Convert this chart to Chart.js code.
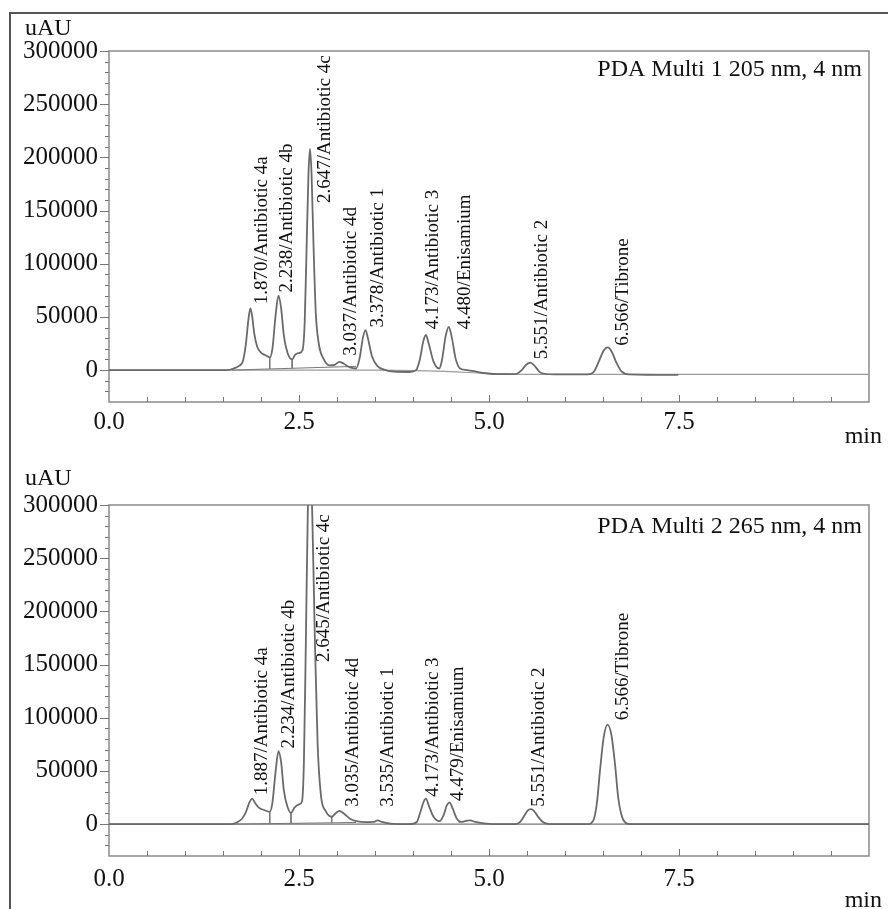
<!DOCTYPE html>
<html>
<head>
<meta charset="utf-8">
<script src="https://cdn.jsdelivr.net/npm/chart.js@4.4.0/dist/chart.umd.min.js"></script>
<style>
  html, body { margin: 0; padding: 0; background: #fff; overflow: hidden; }
  #wrap { position: relative; width: 888px; height: 909px; }
  canvas { position: absolute; left: 0; }
  #top-chart { top: 0; }
  #bottom-chart { top: 454px; }
</style>
</head>
<body>
<div id="wrap">
  <canvas id="top-chart" width="888" height="454"></canvas>
  <canvas id="bottom-chart" width="888" height="455"></canvas>
</div>
<script>
// axis ticks
const xTicks = [0, 2.5, 5, 7.5];
const yTicks = [0, 50000, 100000, 150000, 200000, 250000, 300000];

// 205 nm trace [min, uAU]
const trace205 = [
  [0, 0], [1.55, 0], [1.64, 1500], [1.71, 4000], [1.76, 8000], [1.80, 24000], [1.835, 48000],
  [1.86, 58000], [1.885, 50000], [1.91, 35000], [1.95, 22000], [2.00, 16500], [2.06, 14000],
  [2.115, 12000], [2.15, 20000], [2.19, 50000], [2.23, 70000], [2.265, 58000], [2.30, 33000],
  [2.35, 16000], [2.41, 10000], [2.45, 14500], [2.50, 16000], [2.545, 18500], [2.575, 45000],
  [2.60, 115000], [2.625, 185000], [2.645, 208000], [2.665, 185000], [2.69, 120000], [2.72, 55000],
  [2.76, 25000], [2.82, 11000], [2.90, 4500], [2.97, 5000], [3.03, 7800], [3.09, 6000], [3.17, 2500],
  [3.25, 1500], [3.30, 12000], [3.34, 30000], [3.375, 37500], [3.41, 29000], [3.46, 13000],
  [3.53, 4000], [3.62, 500], [3.75, -1500], [3.95, -1800], [4.04, 0], [4.09, 10000], [4.135, 27000],
  [4.17, 33000], [4.21, 24000], [4.27, 8000], [4.345, 1500], [4.38, 9000], [4.43, 32000],
  [4.47, 40500], [4.51, 31000], [4.56, 11000], [4.62, 1500], [4.71, 0], [4.80, -1000], [4.90, -2500],
  [5.10, -3800], [5.35, -3800], [5.43, 0], [5.49, 5000], [5.545, 7000], [5.60, 4000], [5.68, -2500],
  [5.85, -4000], [6.30, -4000], [6.38, -1500], [6.45, 9000], [6.51, 18500], [6.56, 21300],
  [6.61, 18000], [6.67, 8000], [6.74, -1000], [6.84, -4000], [7.49, -4500]
];
const zero205 = [[0, 0], [3.5, 0], [4.2, -800], [5.5, -4000], [10, -4000]];
const marks205 = [
  [[1.62, 0], [3.25, 3500]],
  [[2.115, 12000], [2.115, 1200]],
  [[2.41, 10000], [2.41, 1800]]
];
const peakNames205 = [
  '1.870/Antibiotic 4a', '2.238/Antibiotic 4b', '2.647/Antibiotic 4c', '3.037/Antibiotic 4d',
  '3.378/Antibiotic 1', '4.173/Antibiotic 3', '4.480/Enisamium', '5.551/Antibiotic 2', '6.566/Tibrone'
];
const peakLabelAt205 = [
  [2.017, 62000], [2.338, 73000], [2.842, 157000], [3.18, 13400], [3.544, 40100],
  [4.268, 38500], [4.684, 38500], [5.693, 10300], [6.759, 22900]
];

// 265 nm trace [min, uAU]
const trace265 = [
  [0, 0], [1.60, 0], [1.68, 1500], [1.75, 5000], [1.80, 11000], [1.845, 20000], [1.885, 24000],
  [1.92, 20000], [1.97, 15500], [2.05, 13000], [2.115, 11600], [2.15, 20000], [2.19, 48000],
  [2.23, 68500], [2.265, 58000], [2.30, 32000], [2.35, 16000], [2.395, 10500], [2.44, 15500],
  [2.50, 18500], [2.54, 21500], [2.565, 60000], [2.59, 170000], [2.615, 290000], [2.645, 345000],
  [2.675, 290000], [2.71, 170000], [2.745, 75000], [2.79, 26000], [2.85, 12500], [2.93, 6900],
  [2.98, 10000], [3.03, 12500], [3.09, 10000], [3.17, 5000], [3.25, 2800], [3.40, 1800], [3.48, 2000],
  [3.535, 3500], [3.59, 2000], [3.70, 500], [3.95, 0], [4.05, 2000], [4.10, 12000], [4.14, 21000],
  [4.17, 24000], [4.21, 17000], [4.27, 7000], [4.35, 2800], [4.40, 8000], [4.445, 17500],
  [4.48, 20400], [4.52, 15000], [4.57, 6000], [4.63, 2000], [4.70, 3000], [4.75, 3500], [4.82, 2000],
  [4.93, 700], [5.05, 0], [5.35, 0], [5.41, 2000], [5.47, 8500], [5.51, 12800], [5.55, 14100],
  [5.59, 12500], [5.64, 7500], [5.70, 2500], [5.76, 500], [5.85, 0], [6.30, 0], [6.37, 3000],
  [6.42, 20000], [6.46, 50000], [6.51, 82000], [6.56, 93600], [6.61, 84000], [6.66, 55000],
  [6.70, 25000], [6.75, 7000], [6.82, 500], [6.90, 0], [10, 0]
];
const zero265 = [[0, 0], [10, 0]];
const marks265 = [
  [[1.63, 0], [3.25, 1500]],
  [[2.115, 11600], [2.115, 700]],
  [[2.395, 10500], [2.395, 900]],
  [[2.93, 6900], [2.93, 1200]]
];
const peakNames265 = [
  '1.887/Antibiotic 4a', '2.234/Antibiotic 4b', '2.645/Antibiotic 4c', '3.035/Antibiotic 4d',
  '3.535/Antibiotic 1', '4.173/Antibiotic 3', '4.479/Enisamium', '5.551/Antibiotic 2', '6.566/Tibrone'
];
const peakLabelAt265 = [
  [2.009, 27200], [2.373, 71000], [2.829, 152400], [3.206, 16300], [3.667, 16300],
  [4.268, 25700], [4.596, 21600], [5.662, 16300], [6.759, 97600]
];

const SERIF = '"Liberation Serif", "Times New Roman", serif';
const toXY = pts => pts.map(([x, y]) => ({ x, y }));

// frame, box, ticks, peak names and axis captions
const decorPlugin = {
  id: 'decor',
  beforeDatasetsDraw(chart, args, o) {
    const { ctx, chartArea: a, scales: { x, y } } = chart;
    ctx.save();
    ctx.strokeStyle = '#8a8a8a';
    ctx.lineWidth = 1.5;
    ctx.strokeRect(a.left, a.top, a.right - a.left, a.bottom - a.top);

    // y ticks (outside, every 10000)
    ctx.strokeStyle = '#777';
    ctx.lineWidth = 1;
    for (let v = -20000; v <= 300000; v += 10000) {
      const py = Math.round(y.getPixelForValue(v)) + 0.5;
      const len = v % 50000 === 0 ? 9 : 4;
      ctx.beginPath();
      ctx.moveTo(a.left - len, py);
      ctx.lineTo(a.left, py);
      ctx.stroke();
    }
    // x ticks (inside, every 0.5 min)
    for (let t = 0.5; t < 10; t += 0.5) {
      const px = Math.round(x.getPixelForValue(t)) + 0.5;
      const len = Math.abs(t / 2.5 - Math.round(t / 2.5)) < 1e-6 ? 7 : 5;
      ctx.beginPath();
      ctx.moveTo(px, a.bottom);
      ctx.lineTo(px, a.bottom - len);
      ctx.stroke();
    }
    ctx.restore();
  },
  afterDraw(chart, args, o) {
    const { ctx, scales: { x, y } } = chart;
    ctx.save();
    // outer frame
    ctx.strokeStyle = '#555';
    ctx.lineWidth = 2;
    ctx.beginPath();
    ctx.moveTo(10, chart.height);
    ctx.lineTo(10, o.frameTop ? 13 : 0);
    if (o.frameTop) ctx.lineTo(chart.width, 13);
    ctx.stroke();

    ctx.fillStyle = '#111';
    ctx.font = '24px ' + SERIF;
    ctx.textBaseline = 'alphabetic';
    ctx.textAlign = 'left';
    ctx.fillText('uAU', 25, o.uauY);
    ctx.textAlign = 'right';
    ctx.fillText('min', 882, o.minY);
    ctx.fillText(o.title, 862, o.titleY);

    // peak names, rotated
    ctx.font = '19px ' + SERIF;
    ctx.textAlign = 'left';
    ctx.textBaseline = 'middle';
    o.names.forEach((name, i) => {
      const [t, v] = o.at[i];
      ctx.save();
      ctx.translate(x.getPixelForValue(t), y.getPixelForValue(v));
      ctx.rotate(-Math.PI / 2);
      ctx.fillText(name, 0, 0);
      ctx.restore();
    });
    ctx.restore();
  }
};

function makeChart(id, trace, zero, marks, names, at, cfg) {
  const datasets = [
    { data: toXY(trace), borderColor: '#6a6a6a', borderWidth: 1.8, order: 0 },
    { data: toXY(zero), borderColor: cfg.zeroColor, borderWidth: 1.2, order: 2 }
  ];
  marks.forEach(seg => {
    datasets.push({ data: toXY(seg), borderColor: '#777', borderWidth: 1, order: 1, cubicInterpolationMode: 'default', tension: 0 });
  });

  return new Chart(document.getElementById(id), {
    type: 'line',
    data: { datasets },
    options: {
      responsive: false,
      animation: false,
      events: [],
      layout: { padding: { left: 0, right: 19, top: 51, bottom: 0 } },
      elements: {
        point: { radius: 0 },
        line: { cubicInterpolationMode: 'monotone', fill: false }
      },
      plugins: {
        legend: { display: false },
        tooltip: { enabled: false },
        decor: { names, at, title: cfg.title, uauY: cfg.uauY, minY: cfg.minY, titleY: cfg.titleY, frameTop: cfg.frameTop }
      },
      scales: {
        x: {
          type: 'linear',
          min: 0,
          max: 10,
          grid: { display: false, drawTicks: false },
          border: { display: false },
          afterBuildTicks: axis => { axis.ticks = xTicks.map(v => ({ value: v })); },
          afterFit: axis => { axis.height = cfg.xHeight; },
          ticks: {
            autoSkip: false,
            maxRotation: 0,
            padding: cfg.xPad,
            color: '#111',
            font: { family: SERIF, size: 25 },
            callback: v => v.toFixed(1)
          }
        },
        y: {
          min: -30000,
          max: 300000,
          grid: { display: false, drawTicks: false },
          border: { display: false },
          afterBuildTicks: axis => { axis.ticks = yTicks.map(v => ({ value: v })); },
          afterFit: axis => { axis.width = 109; },
          ticks: {
            autoSkip: false,
            padding: 11,
            color: '#111',
            font: { family: SERIF, size: 25 },
            callback: v => String(v)
          }
        }
      }
    },
    plugins: [decorPlugin]
  });
}

document.addEventListener('DOMContentLoaded', function () {
  makeChart('top-chart', trace205, zero205, marks205, peakNames205, peakLabelAt205, {
    title: 'PDA Multi 1 205 nm, 4 nm', uauY: 35, minY: 443, titleY: 76,
    frameTop: true, xHeight: 52, xPad: 5, zeroColor: '#9a9a9a'
  });
  makeChart('bottom-chart', trace265, zero265, marks265, peakNames265, peakLabelAt265, {
    title: 'PDA Multi 2 265 nm, 4 nm', uauY: 31, minY: 453, titleY: 79,
    frameTop: false, xHeight: 53, xPad: 8, zeroColor: '#777'
  });
});
</script>
</body>
</html>
